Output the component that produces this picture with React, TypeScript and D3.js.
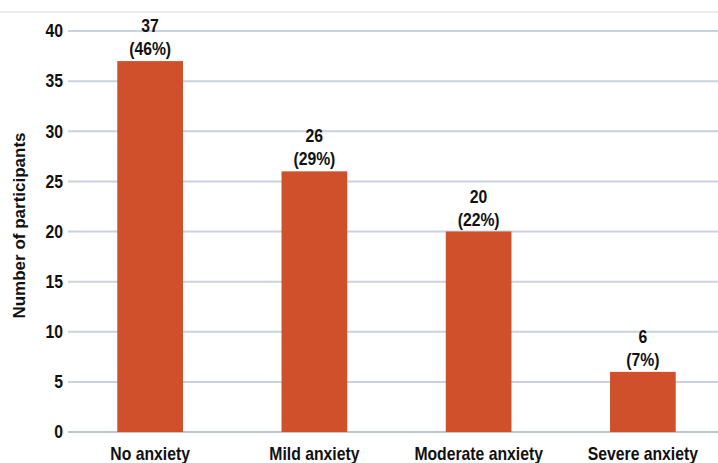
import { useEffect } from "react";
import * as d3 from "d3";

const categories = ["No anxiety", "Mild anxiety", "Moderate anxiety", "Severe anxiety"];
const counts = [37, 26, 20, 6];
const percents = ["46%", "29%", "22%", "7%"];
const yTicks = [0, 5, 10, 15, 20, 25, 30, 35, 40];

const W = 718;
const H = 463;
const FONT = "'Liberation Sans', Arial, sans-serif";
const FS = 17.5;
const SX = 0.9;

// condensed bold text, like the narrow font in the original
function Label({ x, y, anchor = "middle", dy, children }: { x: number; y: number; anchor?: string; dy?: string; children: any }) {
  return (
    <text
      transform={`translate(${x},${y}) scale(${SX},1)`}
      dy={dy}
      textAnchor={anchor}
      fontSize={FS}
      fontWeight="bold"
      fill="#111"
    >
      {children}
    </text>
  );
}

export default function App() {
  useEffect(() => {
    document.body.style.margin = "0";
  }, []);

  const margin = { top: 31, right: -7, bottom: 31, left: 68 };
  const x = d3
    .scaleBand<string>()
    .domain(categories)
    .range([margin.left, W - margin.right])
    .paddingInner(0.6)
    .paddingOuter(0.3);
  const y = d3.scaleLinear().domain([0, 40]).range([H - margin.bottom, margin.top]);

  return (
    <svg width={W} height={H} style={{ display: "block", fontFamily: FONT }}>
      <rect width={W} height={H} fill="#fff" />
      <line x1={0} x2={W} y1={12} y2={12} stroke="#E3E7EC" strokeWidth={1.5} />
      {yTicks.map((t) => (
        <g key={t}>
          <line
            x1={margin.left}
            x2={W}
            y1={y(t)}
            y2={y(t)}
            stroke={t === 0 ? "#BCC6D2" : "#C9D2DD"}
            strokeWidth={2}
          />
          <Label x={63} y={y(t)} dy="0.36em" anchor="end">
            {t}
          </Label>
        </g>
      ))}
      {categories.map((c, i) => {
        const bx = x(c)!;
        const cx = bx + x.bandwidth() / 2;
        const top = y(counts[i]);
        return (
          <g key={c}>
            <rect
              x={bx}
              y={top}
              width={x.bandwidth()}
              height={y(0) - top}
              fill="#D0502C"
            />
            <Label x={cx} y={top - 29}>{counts[i]}</Label>
            <Label x={cx} y={top - 6}>({percents[i]})</Label>
            <Label x={cx} y={460}>{c}</Label>
          </g>
        );
      })}
      <text
        transform={`translate(25,${(margin.top + H - margin.bottom) / 2 - 6}) rotate(-90)`}
        textAnchor="middle"
        fontSize={17}
        fontWeight="bold"
        fill="#111"
      >
        Number of participants
      </text>
    </svg>
  );
}
